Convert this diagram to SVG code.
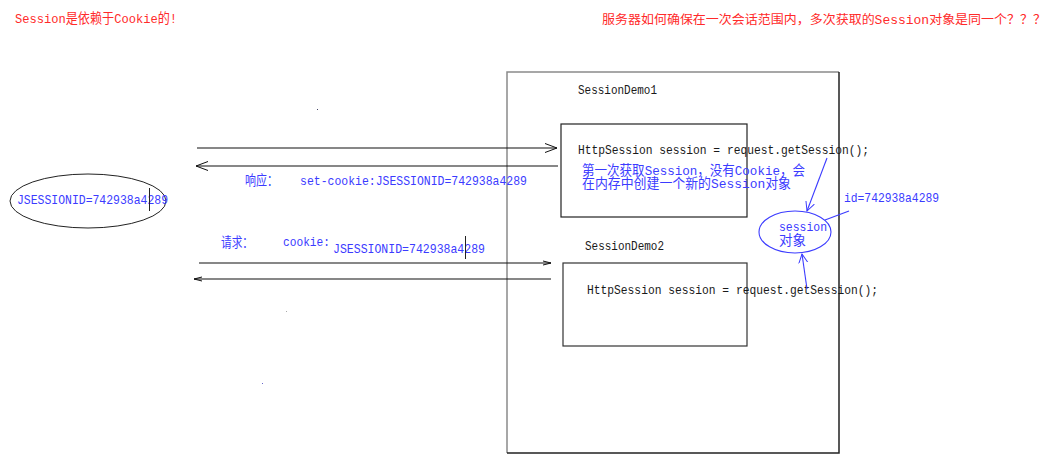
<svg xmlns="http://www.w3.org/2000/svg" width="1057" height="458" viewBox="0 0 1057 458">
<style>
text{font-family:"Liberation Mono","Noto Sans CJK SC",monospace;font-size:13.5px}
.red{fill:#ff2a2a}
.blue{fill:#3b3bff}
.blk{fill:#1a1a1a}
.ln{stroke:#111;stroke-width:1.2;fill:none}
.bl{stroke:#3b3bff;stroke-width:1.1;fill:none}
</style>
<defs>
<marker id="big" markerUnits="userSpaceOnUse" markerWidth="14" markerHeight="12" refX="12" refY="5" orient="auto"><path d="M0,0.5 L12,5 L0,9.5" fill="none" stroke="#111" stroke-width="1"/></marker>
<marker id="sm" markerUnits="userSpaceOnUse" markerWidth="10" markerHeight="6" refX="8" refY="3" orient="auto"><path d="M0,1 L8,3 L0,5" fill="none" stroke="#111" stroke-width="1"/></marker>
<marker id="bm" markerUnits="userSpaceOnUse" markerWidth="12" markerHeight="12" refX="9" refY="5" orient="auto"><path d="M0,0.5 L9,5 L0,9.5" fill="none" stroke="#3b3bff" stroke-width="1"/></marker>
</defs>
<rect width="1057" height="458" fill="#fff"/>
<text class="red" x="15" y="23" textLength="162" lengthAdjust="spacingAndGlyphs">Session是依赖于Cookie的!</text>
<text class="red" x="602" y="24" style="font-size:12.5px" textLength="444" lengthAdjust="spacingAndGlyphs">服务器如何确保在一次会话范围内，多次获取的Session对象是同一个？？？</text>
<g id="server">
<path d="M507,453 L507,72 L839,72" fill="none" stroke="#8a8a8a" stroke-width="1.5"/>
<path d="M839,72 L839,453 L507,453" fill="none" stroke="#222" stroke-width="1.5"/>
</g>
<g id="client-cookie">
<ellipse cx="88" cy="201" rx="78" ry="27" fill="none" stroke="#222" stroke-width="1"/>
<text class="blue" x="17" y="204" textLength="151" lengthAdjust="spacingAndGlyphs">JSESSIONID=742938a4289</text>
<line x1="149.5" y1="188" x2="149.5" y2="211" stroke="#222" stroke-width="1"/>
</g>
<g id="demo1">
<text class="blk" x="578" y="94" textLength="79" lengthAdjust="spacingAndGlyphs">SessionDemo1</text>
<rect x="561" y="124" width="186" height="93" fill="none" stroke="#222" stroke-width="1.2"/>
<text class="blk" x="578" y="154" textLength="291" lengthAdjust="spacingAndGlyphs">HttpSession session = request.getSession();</text>
<text class="blue" x="582" y="175" textLength="223" lengthAdjust="spacingAndGlyphs">第一次获取Session，没有Cookie，会</text>
<text class="blue" x="582" y="188" textLength="209" lengthAdjust="spacingAndGlyphs">在内存中创建一个新的Session对象</text>
</g>
<g id="demo2">
<text class="blk" x="585" y="250" textLength="79" lengthAdjust="spacingAndGlyphs">SessionDemo2</text>
<rect x="563" y="263" width="184" height="83" fill="none" stroke="#333" stroke-width="1.2"/>
<text class="blk" x="587" y="294" textLength="291" lengthAdjust="spacingAndGlyphs">HttpSession session = request.getSession();</text>
</g>
<g id="session-object">
<ellipse cx="795" cy="232" rx="36" ry="21" fill="none" stroke="#3b3bff" stroke-width="1.1"/>
<text class="blue" x="779" y="231" textLength="48" lengthAdjust="spacingAndGlyphs">session</text>
<text class="blue" x="779" y="245" textLength="27" lengthAdjust="spacingAndGlyphs">对象</text>
<text class="blue" x="844" y="202" textLength="95" lengthAdjust="spacingAndGlyphs">id=742938a4289</text>
</g>
<g id="connectors">
<line class="ln" x1="197" y1="148" x2="557" y2="148" marker-end="url(#big)"/>
<line class="ln" x1="558" y1="166" x2="196" y2="166" marker-end="url(#big)"/>
<line class="ln" x1="199" y1="263" x2="551" y2="263" marker-end="url(#sm)"/>
<line class="ln" x1="551" y1="279" x2="194" y2="279" marker-end="url(#sm)"/>
<line class="bl" x1="827" y1="158" x2="807" y2="211" marker-end="url(#bm)"/>
<line class="bl" x1="807" y1="289" x2="802" y2="254" marker-end="url(#bm)"/>
<line class="bl" x1="849" y1="211" x2="825" y2="220"/>
</g>
<g id="labels">
<text class="blue" x="245" y="185" textLength="33" lengthAdjust="spacingAndGlyphs">响应：</text>
<text class="blue" x="300" y="185" textLength="227" lengthAdjust="spacingAndGlyphs">set-cookie:JSESSIONID=742938a4289</text>
<text class="blue" x="221" y="247" textLength="32" lengthAdjust="spacingAndGlyphs">请求：</text>
<text class="blue" x="283" y="246" textLength="47" lengthAdjust="spacingAndGlyphs">cookie:</text>
<text class="blue" x="333" y="253" textLength="152" lengthAdjust="spacingAndGlyphs">JSESSIONID=742938a4289</text>
<line x1="465.5" y1="236" x2="465.5" y2="259" stroke="#222" stroke-width="1"/>
</g>
<rect x="317" y="109" width="1" height="1" fill="#446"/>
<rect x="286" y="311" width="1" height="1" fill="#aaa"/>
<rect x="262" y="383" width="1" height="1" fill="#66c"/>
</svg>
